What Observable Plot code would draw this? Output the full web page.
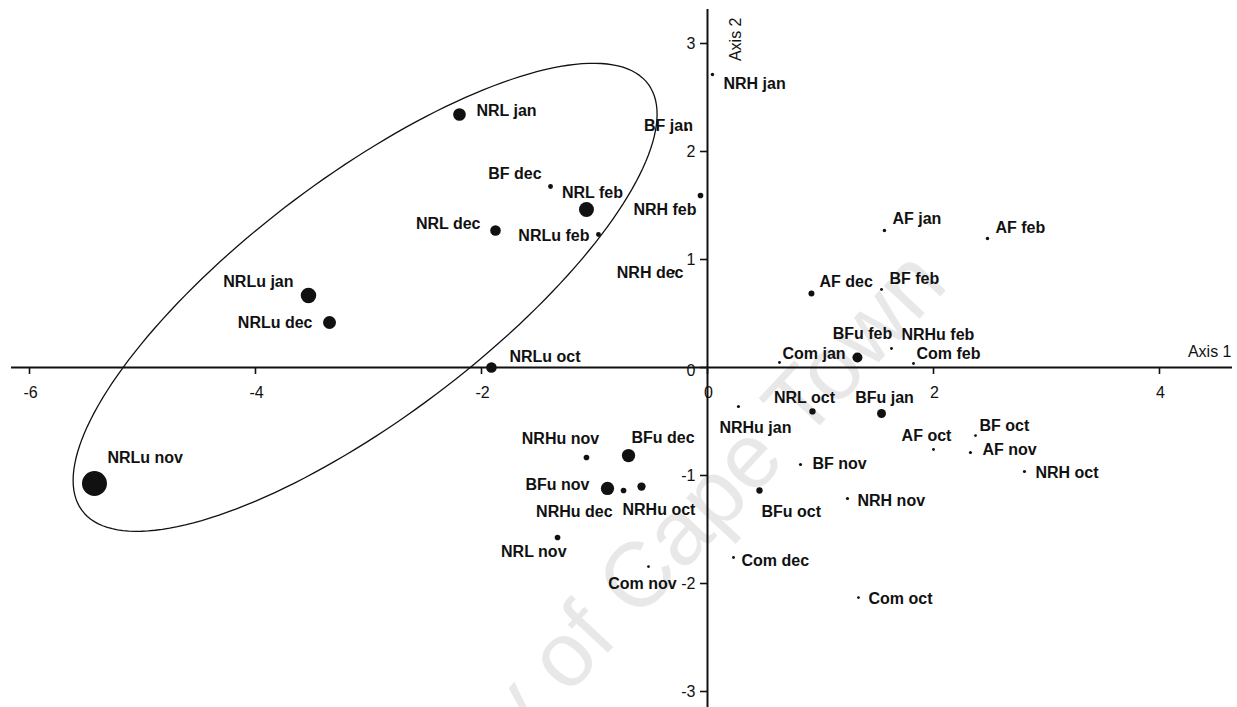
<!DOCTYPE html>
<html>
<head>
<meta charset="utf-8">
<script src="https://cdn.jsdelivr.net/npm/d3@7"></script>
<script src="https://cdn.jsdelivr.net/npm/@observablehq/plot@0.6"></script>
<style>
  html, body { margin: 0; padding: 0; background: #fff; }
  #chart { width: 1237px; height: 707px; overflow: hidden; }
</style>
</head>
<body>
<div id="chart"></div>
<script>
// ---- data ----
const names = ["NRL jan","BF jan","NRH jan","BF dec","NRL feb","NRL dec","NRLu feb","NRH feb","NRH dec",
  "NRLu jan","NRLu dec","NRLu oct","NRLu nov","NRHu nov","BFu dec","BFu nov","NRHu dec","NRHu oct",
  "NRL nov","Com nov","Com jan","NRHu jan","NRL oct","BF nov","BFu oct","Com dec","AF jan","AF feb",
  "AF dec","BF feb","BFu feb","NRHu feb","Com feb","BFu jan","BF oct","AF oct","AF nov","NRH oct",
  "NRH nov","Com oct"];
const axis1 = [-2.195,-0.186,0.044,-1.389,-1.071,-1.876,-0.965,-0.062,-0.301,
  -3.531,-3.345,-1.912,-5.425,-1.071,-0.699,-0.885,-0.743,-0.584,
  -1.327,-0.522,0.637,0.274,0.929,0.823,0.460,0.230,1.566,2.478,
  0.920,1.540,1.327,1.628,1.823,1.540,2.372,2.000,2.327,2.805,
  1.239,1.336];
const axis2 = [2.343,2.204,2.713,1.676,1.463,1.269,1.231,1.593,0.889,
  0.667,0.417,0.000,-1.074,-0.833,-0.815,-1.120,-1.139,-1.102,
  -1.574,-1.843,0.046,-0.361,-0.407,-0.898,-1.139,-1.759,1.269,1.194,
  0.685,0.722,0.093,0.176,0.037,-0.426,-0.630,-0.759,-0.787,-0.963,
  -1.213,-2.130];
const abundance = [40,2.5,3,6,56,28,6,8,2,
  60,42,28,156,8,44,44,8,17,
  8,2,2,2.5,10,2.5,10,2,3,3,
  9,2,25,2,2,20,2,2,2.5,2.5,
  2.5,2];
const xTicks = [-6,-4,-2,0,2,4];
const yTicks = [-3,-2,-1,0,1,2,3];
const xTickLabels = ["-6","-4","-2","0","2","4"];
const yTickLabels = ["-3","-2","-1","0","1","2","3"];
// ellipse enclosing the NRL/NRLu group: centre and conjugate semi-axes (data units)
const ellipseCentre = [-3.03, 0.65];
const ellipseAxisA = [2.584, 1.695];
const ellipseAxisB = [0.0, 1.350];

// ---- label placement (styles: anchor, dx, dy in px) ----
const labelPlacement = [
  ["start",17,-4],["middle",-18,-4],["start",11,9],["end",-9,-13],["middle",6,-17],["end",-15,-7],["end",-9,1],["end",-4,14],["end",10,1],
  ["end",-15,-14],["end",-17,0],["start",18,-11],["start",13,-26],["middle",-26,-19],["start",3,-18],["end",-18,-4],["end",-11,21],["start",-19,23],
  ["end",9,14],["middle",-6,17],["start",3,-9],["middle",17,21],["middle",-8,-14],["start",12,-1],["start",2,21],["start",8,3],["start",8,-12],["start",8,-11],
  ["start",8,-12],["start",8,-11],["middle",5,-24],["start",10,-14],["start",3,-10],["middle",3,-16],["start",4,-10],["middle",-7,-14],["start",12,-3],["start",11,1],
  ["start",10,2],["start",10,1]
];

const points = names.map((n, i) => ({name: n, x: axis1[i], y: axis2[i], w: abundance[i],
  anchor: labelPlacement[i][0], dx: labelPlacement[i][1], dy: labelPlacement[i][2]}));

// ellipse outline
const ellipse = d3.range(0, 361, 2).map(deg => {
  const t = deg * Math.PI / 180;
  return {
    x: ellipseCentre[0] + ellipseAxisA[0] * Math.cos(t) + ellipseAxisB[0] * Math.sin(t),
    y: ellipseCentre[1] + ellipseAxisA[1] * Math.cos(t) + ellipseAxisB[1] * Math.sin(t)
  };
});

const W = 1237, H = 707;
const xDomain = [-6.2566, 4.6903];
const yDomain = [-3.1481, 3.3981];
const xAxisExtent = [-6.159, 4.646];
const yAxisExtent = [yDomain[0], 3.315];

const font = "'Liberation Sans', Arial, Helvetica, sans-serif";
const ink = "#111";

const labelMarks = points.map(p => Plot.text([p], {
  x: "x", y: "y", text: "name", textAnchor: p.anchor, dx: p.dx, dy: p.dy,
  fontWeight: "bold", fontSize: 16, fill: ink, fontFamily: font
}));

const plot = Plot.plot({
  width: W, height: H,
  marginTop: 0, marginRight: 0, marginBottom: 0, marginLeft: 0,
  x: {domain: xDomain, axis: null},
  y: {domain: yDomain, axis: null},
  r: {type: "sqrt", domain: [0, 160], range: [0, Math.sqrt(160)]},
  style: {fontFamily: font, background: "#fff"},
  marks: [
    // axes through the origin
    Plot.ruleY([0], {x1: xAxisExtent[0], x2: xAxisExtent[1], stroke: ink, strokeWidth: 2}),
    Plot.ruleX([0], {y1: yAxisExtent[0], y2: yAxisExtent[1], stroke: ink, strokeWidth: 2}),
    Plot.ruleX(xTicks, {x: d => d, y1: 0, y2: 0, insetBottom: -7, stroke: ink, strokeWidth: 1.6}),
    Plot.ruleY(yTicks, {y: d => d, x1: 0, x2: 0, insetLeft: -7, stroke: ink, strokeWidth: 1.6}),
    Plot.text(xTicks, {x: d => d, y: 0, text: (d, i) => xTickLabels[i], dy: 25, dx: 1, fontSize: 16, fill: ink}),
    Plot.text(yTicks.filter(d => d !== 0), {y: d => d, x: 0, text: d => yTickLabels[yTicks.indexOf(d)], dx: -12, textAnchor: "end", fontSize: 16, fill: ink}),
    Plot.text([0], {y: d => d, x: 0, text: d => yTickLabels[yTicks.indexOf(d)], dx: -12, dy: 3, textAnchor: "end", fontSize: 16, fill: ink}),
    Plot.text(["Axis 1"], {y: () => 0, frameAnchor: "right", text: d => d, dx: -6, dy: -16, textAnchor: "end", fontSize: 16, fill: ink}),
    Plot.text(["Axis 2"], {x: () => 0, frameAnchor: "top", text: d => d, rotate: -90, dx: 22, dy: 17, textAnchor: "end", fontSize: 16, fill: ink}),
    // ellipse
    Plot.line(ellipse, {x: "x", y: "y", stroke: ink, strokeWidth: 1.3, curve: "linear"}),
    // points
    Plot.dot(points, {x: "x", y: "y", r: "w", fill: ink, stroke: "none"}),
    ...labelMarks
  ]
});

document.getElementById("chart").appendChild(plot);

// faint watermark across the plot
d3.select(plot).append("text")
  .attr("transform", "translate(950,286) rotate(-47)")
  .attr("text-anchor", "end")
  .attr("font-family", font)
  .attr("font-size", 92)
  .attr("fill", "#000")
  .attr("fill-opacity", 0.09)
  .text("University of Cape Town")
  .lower();
</script>
</body>
</html>
